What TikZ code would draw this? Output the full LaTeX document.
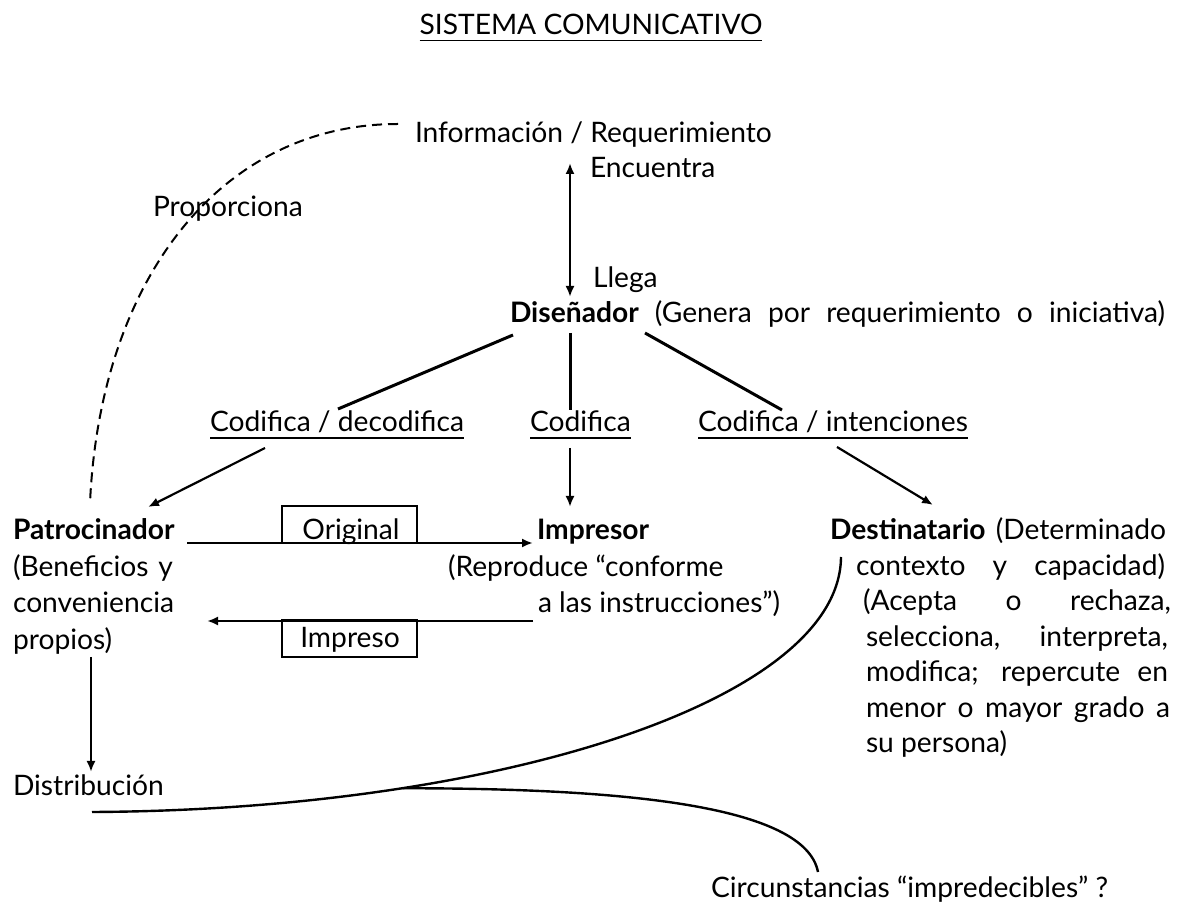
\documentclass[tikz,border=0pt]{standalone}
\usepackage{fontspec}
\setmainfont{Lato}
\usetikzlibrary{arrows.meta}
\begin{document}
\begin{tikzpicture}[x=0.5pt,y=-0.5pt,
  txt/.style={inner sep=0pt, outer sep=0pt, anchor=base west, font=\fontsize{14.1}{18}\selectfont},
  ctxt/.style={txt, anchor=base},
  conn/.style={line width=1.5pt},
  arr/.style={line width=1.1pt, -{Latex[length=5.5pt,width=4.5pt]}},
  darr/.style={line width=1.1pt, {Latex[length=5.5pt,width=4.5pt]}-{Latex[length=5.5pt,width=4.5pt]}},
  ul/.style={line width=0.9pt},
  dashline/.style={line width=1pt, dash pattern=on 5pt off 3pt},
  curveline/.style={line width=1.2pt},
  lbox/.style={draw, line width=1pt, inner sep=0pt, outer sep=0pt, minimum width=67.5pt, minimum height=18.5pt}]
\useasboundingbox (0,0) rectangle (1183,913);

% texts
\node[ctxt] (title) at (591,35) {SISTEMA COMUNICATIVO};
\draw[ul] ([yshift=-2.8pt]title.base west) -- ([yshift=-2.8pt]title.base east);
\node[txt] (info) at (415,143) {Información / Requerimiento};
\node[txt] (enc) at (590,178) {Encuentra};
\node[txt] (llega) at (593,288) {Llega};
\node[txt] (prop) at (153,217) {Proporciona};
\node[txt] (dis) at (510,323) {\makebox[327.5pt][s]{\textbf{Diseñador} (Genera por requerimiento o iniciativa)}};
\node[txt] (cd) at (210,432) {Codifica / decodifica};
\node[txt] (cod) at (530,432) {Codifica};
\node[txt] (ci) at (698,432) {Codifica / intenciones};
\foreach \n in {cd,cod,ci}
  \draw[ul] ([yshift=-3pt]\n.base west) -- ([yshift=-3pt]\n.base east);

% Patrocinador
\node[txt] (pat) at (13,540) {\textbf{Patrocinador}};
\node[txt] (pat2) at (13,577) {\makebox[80pt][s]{(Beneficios y}};
\node[txt] (pat3) at (13,613) {conveniencia};
\node[txt] (pat4) at (13,650) {propios)};

% Impresor
\node[txt] (imp) at (537,540) {\textbf{Impresor}};
\node[txt] (imp2) at (448,577) {(Reproduce “conforme};
\node[txt] (imp3) at (538,613) {a las instrucciones”)};

% Destinatario
\node[txt] (dest) at (830,540) {\makebox[168pt][s]{\textbf{Destinatario} (Determinado}};
\node[txt] (dest2) at (856,575.5) {\makebox[154.5pt][s]{contexto y capacidad)}};
\node[txt] (dest3) at (863,611) {\makebox[154pt][s]{(Acepta o rechaza,}};
\node[txt] (dest4) at (866,646.5) {\makebox[151pt][s]{selecciona, interpreta,}};
\node[txt] (dest5) at (866,682) {\makebox[151pt][s]{modifica; repercute en}};
\node[txt] (dest6) at (866,717.5) {\makebox[152pt][s]{menor o mayor grado a}};
\node[txt] (dest7) at (866,753) {su persona)};

% boxes
\node[lbox, anchor=south west] (obox) at (282,543) {};
\node[ctxt] (orig) at (351,540) {Original};
\node[lbox, anchor=north west] (ibox) at (282,620) {};
\node[ctxt] (impr) at (350,648) {Impreso};

\node[txt] (distr) at (13,795) {Distribución};
\node[txt] (circ) at (711,897) {Circunstancias “impredecibles” ?};

% coordinates
\coordinate (infoarr) at (570,163);
\coordinate (llegaarr) at (570,297);
\coordinate (dL) at (513,335);
\coordinate (dM) at (570,333);
\coordinate (dR) at (645,333);
\coordinate (cdT) at (338,409);
\coordinate (codT) at (570,410);
\coordinate (ciT) at (782,410);
\coordinate (cdB) at (265,448);
\coordinate (codB) at (570,448);
\coordinate (ciB) at (837,447);
\coordinate (patIn) at (148,507);
\coordinate (impIn) at (570,507);
\coordinate (destIn) at (933,505);
\coordinate (origS) at (187,543);
\coordinate (origE) at (533,543);
\coordinate (imprS) at (533,621);
\coordinate (imprE) at (207,621);
\coordinate (patOut) at (91,657);
\coordinate (distIn) at (91,772);
\coordinate (dashS) at (398,124);
\coordinate (dashE) at (90,503);
\coordinate (c1S) at (92,812);
\coordinate (c1E) at (841,557);
\coordinate (c2E) at (818,872);

% connectors
\draw[darr] (infoarr) -- (llegaarr);
\draw[conn] (dL) -- (cdT);
\draw[conn] (dM) -- (codT);
\draw[conn] (dR) -- (ciT);
\draw[arr] (cdB) -- (patIn);
\draw[arr] (codB) -- (impIn);
\draw[arr] (ciB) -- (destIn);
\draw[arr] (origS) -- (origE);
\draw[arr] (imprS) -- (imprE);
\draw[arr] (patOut) -- (distIn);
\draw[dashline] (dashS) .. controls (220,124) and (100,280) .. (dashE);
\draw[curveline] (c1S) .. controls (500,810) and (840,700) .. coordinate[pos=0.27] (c2S) (c1E);
\draw[curveline] (c2S) .. controls ([xshift=110pt]c2S) and (805,805) .. (c2E);
\end{tikzpicture}
\end{document}
